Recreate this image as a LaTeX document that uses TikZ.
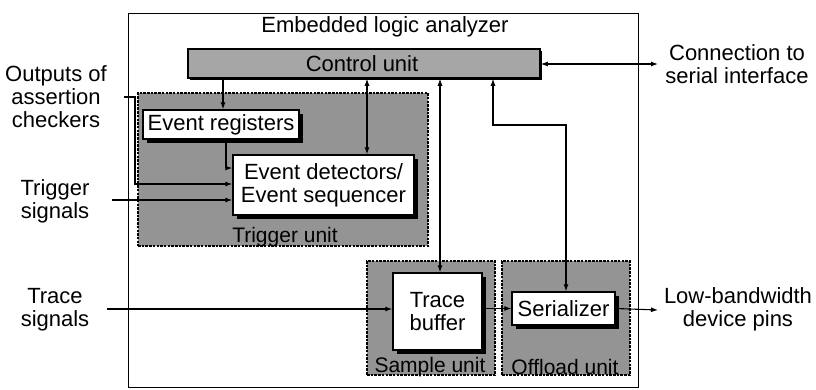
\documentclass[tikz,border=0pt]{standalone}
\usepackage{fontspec}
\setmainfont{Liberation Sans}
\usetikzlibrary{arrows.meta,shadows}
\begin{document}
\begin{tikzpicture}[x=1pt,y=-1pt,
 every node/.style={font=\fontsize{22}{23}\selectfont},
 arr/.style={-{Latex[length=7pt,width=5pt]}, line width=1.1pt},
 darr/.style={{Latex[length=7pt,width=5pt]}-{Latex[length=7pt,width=5pt]}, line width=1.1pt},
 wbox/.style={draw=black, line width=1.3pt, fill=white, inner sep=0pt, align=center,
   general shadow={fill=black, shadow xshift=3.5pt, shadow yshift=-3.5pt}},
 cbox/.style={draw=black, line width=1.6pt, fill=black!35, inner sep=0pt,
   general shadow={fill=black, shadow xshift=2pt, shadow yshift=-2pt}},
 unitbox/.style={draw=black, line width=1.6pt, dash pattern=on 2.5pt off 1.2pt, fill=black!42, inner sep=0pt},
 ulabel/.style={font=\fontsize{21}{22}\selectfont, inner sep=0pt},
 txt/.style={align=center, inner sep=0pt}
]
\useasboundingbox (0,0) rectangle (816,389);

% outer box
\node[draw, line width=0.9pt, minimum width=510pt, minimum height=374pt, inner sep=0pt] (ela) at (383,200) {};
\node[inner sep=0pt] (title) at (385,27) {Embedded logic analyzer};

% unit regions
\node[unitbox, minimum width=290pt, minimum height=153pt] (trig) at (283,169.5) {};
\node[unitbox, minimum width=128pt, minimum height=114pt] (samp) at (431,318) {};
\node[unitbox, minimum width=128pt, minimum height=114pt] (offl) at (566,318) {};
\node[ulabel] (triglbl) at (285,237) {Trigger unit};
\node[ulabel] (samplbl) at (430,367) {Sample unit};
\node[ulabel] (offllbl) at (565,367) {Offload unit};

% blocks
\node[cbox, minimum width=352pt, minimum height=29pt] (ctrl) at (364,63.5) {};
\node[inner sep=0pt] (ctrltxt) at (362,64) {Control unit};
\node[wbox, minimum width=156pt, minimum height=29pt] (evreg) at (221,124.5) {Event registers};
\node[wbox, minimum width=181pt, minimum height=60pt] (evdet) at (323.5,185) {Event detectors/\\Event sequencer};
\node[wbox, minimum width=89pt, minimum height=77pt] (tbuf) at (437.5,311.5) {Trace\\buffer};
\node[wbox, minimum width=103pt, minimum height=33pt] (ser) at (563.5,308.5) {Serializer};

% outside labels
\node[txt] (outtxt) at (56,97) {Outputs of\\assertion\\checkers};
\node[txt] (trigtxt) at (55,201) {Trigger\\signals};
\node[txt] (tracetxt) at (55,310) {Trace\\signals};
\node[txt] (conntxt) at (737,64) {Connection to\\serial interface};
\node[txt] (lowtxt) at (738,309) {Low-bandwidth\\device pins};

% helper coordinates
\coordinate (x223) at (223,0);
\coordinate (x226) at (226,0);
\coordinate (x367) at (367,0);
\coordinate (x440) at (440,0);
\coordinate (x493) at (493,0);
\coordinate (x566) at (566,0);
\coordinate (y125) at (0,125);
\coordinate (y168) at (0,168);
\coordinate (y184) at (0,184);
\coordinate (outstart) at (124,97);
\coordinate (outbend) at (135,97);
\coordinate (trigstart) at (112,200);
\coordinate (tracestart) at (107,309);
\coordinate (serend) at (658,64);
\coordinate (pinend) at (658,310);

% connectors
\draw[arr] (ctrl.south -| x223) -- (evreg.north -| x223);
\draw[arr] (evreg.south -| x226) |- (evdet.west |- y168);
\draw[arr] (outstart) -- (outbend) |- (evdet.west |- y184);
\draw[arr] (trigstart) -- (evdet.west |- trigstart);
\draw[arr] (tracestart) -- (tbuf.west |- tracestart);
\draw[darr] (ctrl.south -| x367) -- (evdet.north -| x367);
\draw[darr] (ctrl.south -| x440) -- (tbuf.north -| x440);
\draw[darr] (ctrl.south -| x493) -- (x493 |- y125) -- (x566 |- y125) -- (ser.north -| x566);
\draw[darr] (ctrl.east |- serend) -- (serend);
\draw[arr] (tbuf.east |- ser.west) -- (ser.west);
\draw[arr] (ser.east) -- (pinend);
\end{tikzpicture}
\end{document}
